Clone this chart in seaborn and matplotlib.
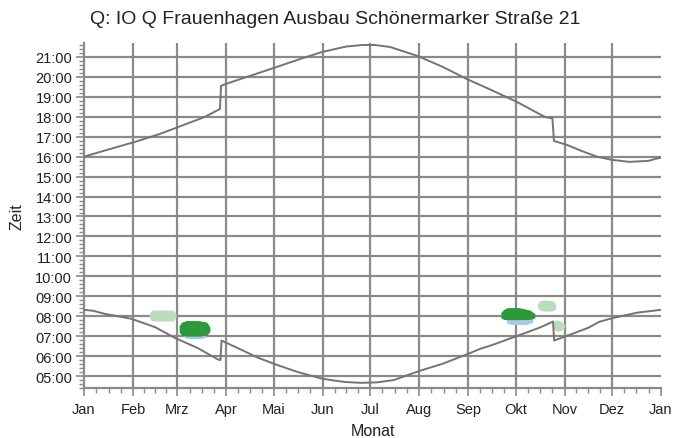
import matplotlib
matplotlib.use("Agg")
import matplotlib.pyplot as plt
from matplotlib.ticker import FixedLocator, MultipleLocator
import pandas as pd
import seaborn as sns

TITLE = "Q: IO Q Frauenhagen Ausbau Schönermarker Straße 21"
X_LABEL = "Monat"
Y_LABEL = "Zeit"

# Month boundaries (day of year) and their labels
MONTHS = ["Jan", "Feb", "Mrz", "Apr", "Mai", "Jun", "Jul",
          "Aug", "Sep", "Okt", "Nov", "Dez", "Jan"]
MONTH_START = [0, 31, 59, 90, 120, 151, 181, 212, 243, 273, 304, 334, 365]
HOURS = list(range(5, 22))

# Sunset (local time, hours) over the year, incl. the daylight-saving jumps
sunset_day = [0, 15, 33, 48, 63, 76, 86.0, 86.7, 89.8, 105, 122, 136, 150.6,
              165.7, 176, 184, 193.6, 211, 227, 242, 258, 274, 291.6, 296.3,
              297.3, 305.5, 315, 324.5, 334, 345, 357, 365]
sunset_hour = [16.00, 16.35, 16.76, 17.14, 17.59, 17.98, 18.39, 19.55, 19.65,
               20.05, 20.50, 20.88, 21.25, 21.52, 21.60, 21.60, 21.50, 21.05,
               20.50, 19.90, 19.33, 18.74, 17.99, 17.92, 16.79, 16.59, 16.28,
               16.00, 15.84, 15.74, 15.79, 15.96]

# Sunrise (local time, hours)
sunrise_day = [0, 6, 13, 20, 30, 45, 57.6, 72, 84.8, 86.3, 87.0, 100, 110,
               122, 136, 151, 165, 175, 185, 196, 212, 227, 242, 250.5, 258,
               274, 288, 296.7, 297.4, 305, 319, 326, 334, 350, 365]
sunrise_hour = [8.32, 8.27, 8.12, 8.02, 7.87, 7.45, 6.91, 6.40, 5.83, 5.80,
                6.78, 6.30, 5.92, 5.56, 5.18, 4.86, 4.70, 4.66, 4.68, 4.80,
                5.25, 5.62, 6.08, 6.36, 6.55, 7.01, 7.42, 7.73, 6.78, 7.00,
                7.42, 7.72, 7.90, 8.18, 8.32]

# Shadow periods: day of year with first / last shadow time (hours)
mar_pale_day = [41.8, 43.2, 50, 56.3, 57.6]
mar_pale_from = [7.98, 7.82, 7.80, 7.82, 7.98]
mar_pale_to = [8.12, 8.25, 8.27, 8.25, 8.12]

mar_blue_day = [63.5, 66, 74, 76.5]
mar_blue_from = [6.99, 6.93, 6.93, 6.99]
mar_blue_to = [7.20, 7.20, 7.20, 7.20]

mar_dark_day = [60.8, 62.2, 65, 72, 77.2, 79.0]
mar_dark_from = [7.22, 7.09, 7.05, 7.05, 7.09, 7.25]
mar_dark_to = [7.50, 7.66, 7.73, 7.73, 7.66, 7.45]

oct_blue_day = [267.8, 270, 280, 283.2]
oct_blue_from = [7.72, 7.64, 7.64, 7.74]
oct_blue_to = [7.95, 7.95, 7.95, 7.95]

oct_dark_day = [264.3, 265.6, 268, 275, 281.8, 284.6]
oct_dark_from = [7.95, 7.89, 7.88, 7.88, 7.89, 7.95]
oct_dark_to = [8.16, 8.28, 8.38, 8.38, 8.26, 8.10]

oct_pale_day = [287.6, 289, 293, 296.8, 297.8]
oct_pale_from = [8.44, 8.33, 8.30, 8.33, 8.44]
oct_pale_to = [8.60, 8.74, 8.76, 8.70, 8.55]

nov_pale_day = [297.2, 298.6, 301, 303.4]
nov_pale_from = [7.42, 7.32, 7.31, 7.45]
nov_pale_to = [7.68, 7.76, 7.73, 7.55]

DARK_GREEN = "#2c9a38"
PALE_GREEN = "#bddcbd"
LIGHT_BLUE = "#a9c8ea"
GRID = "#8a8a8a"
LINE = "#747474"
TEXT = "#222222"

sns.set_theme(style="white")
plt.rcParams["font.family"] = ["Liberation Sans", "DejaVu Sans"]

fig = plt.figure(figsize=(6.75, 4.39), dpi=100)
ax = fig.add_axes([84 / 675, 50 / 439, 577 / 675, 345 / 439])

# grid: every month and every full hour
for d in MONTH_START[1:-1]:
    ax.axvline(d, color=GRID, lw=1.6, zorder=0)
for h in HOURS:
    ax.axhline(h, color=GRID, lw=1.6, zorder=0)

periods = [
    (mar_pale_day, mar_pale_from, mar_pale_to, PALE_GREEN),
    (mar_blue_day, mar_blue_from, mar_blue_to, LIGHT_BLUE),
    (mar_dark_day, mar_dark_from, mar_dark_to, DARK_GREEN),
    (oct_blue_day, oct_blue_from, oct_blue_to, LIGHT_BLUE),
    (oct_dark_day, oct_dark_from, oct_dark_to, DARK_GREEN),
    (oct_pale_day, oct_pale_from, oct_pale_to, PALE_GREEN),
    (nov_pale_day, nov_pale_from, nov_pale_to, PALE_GREEN),
]
for days, t0, t1, col in periods:
    ax.fill_between(days, t0, t1, facecolor=col, edgecolor=col, lw=1.5,
                    joinstyle="round", zorder=2)

sun = pd.concat([
    pd.DataFrame({"Tag": sunrise_day, "Zeit": sunrise_hour, "Kurve": "Aufgang"}),
    pd.DataFrame({"Tag": sunset_day, "Zeit": sunset_hour, "Kurve": "Untergang"}),
])
sns.lineplot(data=sun, x="Tag", y="Zeit", units="Kurve", estimator=None,
             color=LINE, lw=1.4, ax=ax, zorder=3, sort=False)

ax.set_xlim(0, 365)
ax.set_ylim(4.4, 21.7)

ax.xaxis.set_major_locator(FixedLocator(MONTH_START))
ax.set_xticklabels(MONTHS)
minor_x = []
for a, b in zip(MONTH_START[:-1], MONTH_START[1:]):
    minor_x += [a + (b - a) * k / 4 for k in (1, 2, 3)]
ax.xaxis.set_minor_locator(FixedLocator(minor_x))

ax.yaxis.set_major_locator(FixedLocator(HOURS))
ax.set_yticklabels([f"{h:02d}:00" for h in HOURS])
ax.yaxis.set_minor_locator(MultipleLocator(0.2))

ax.tick_params(axis="both", which="major", direction="out", length=6,
               width=1.2, color=GRID, labelsize=10.5, labelcolor=TEXT, pad=2.5)
ax.tick_params(axis="both", which="minor", direction="out", length=3.5,
               width=1.0, color=GRID)
ax.tick_params(axis="x", which="major", pad=4)
ax.tick_params(bottom=True, left=True, which="both")

for side in ("top", "right"):
    ax.spines[side].set_visible(False)
for side in ("left", "bottom"):
    ax.spines[side].set_color(GRID)
    ax.spines[side].set_linewidth(1.6)

ax.set_xlabel(X_LABEL, fontsize=11.5, color=TEXT, labelpad=5)
ax.set_ylabel(Y_LABEL, fontsize=11.5, color=TEXT, labelpad=8)
fig.suptitle(TITLE, x=0.497, y=1 - 20 / 439, va="center",
             fontsize=14, color=TEXT)

fig.savefig("out.png", dpi=100, facecolor="white")
